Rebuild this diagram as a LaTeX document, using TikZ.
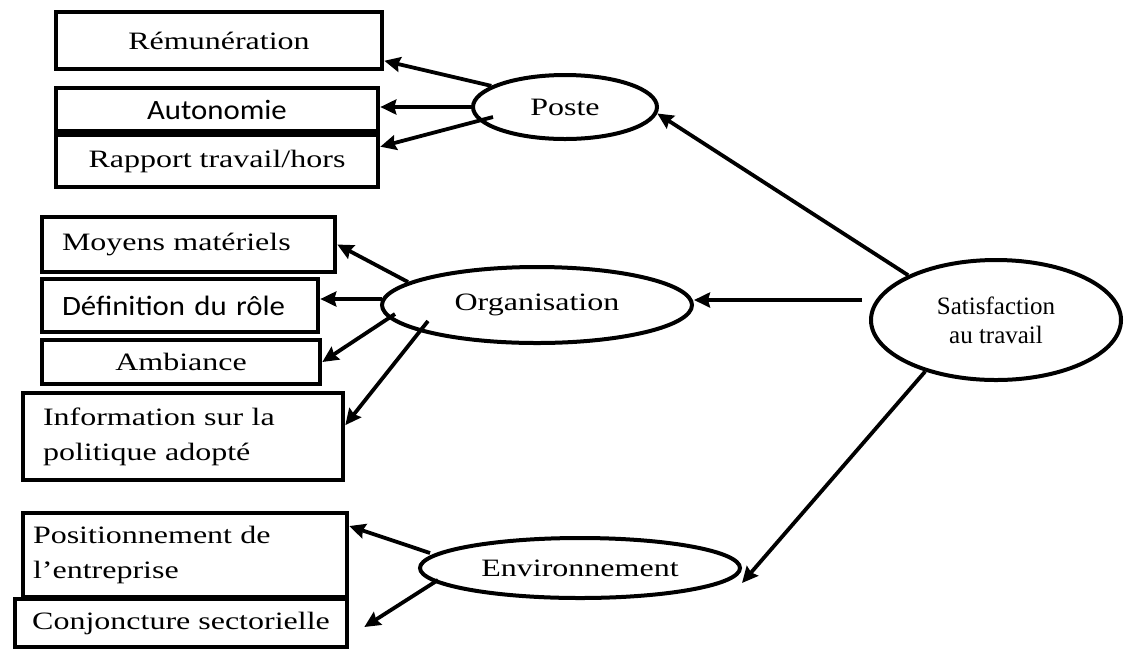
\documentclass[tikz,border=0pt]{standalone}
\usepackage{fontspec}
\setmainfont[FakeStretch=1.28]{Liberation Serif}
\newfontfamily\serifdroit{Liberation Serif}
\newfontfamily\calibri[FakeStretch=1.1]{Carlito}
\usetikzlibrary{shapes.geometric,arrows.meta}

\begin{document}
\begin{tikzpicture}[x=0.5pt,y=-0.5pt,
    boite/.style={draw,line width=2.3pt,inner sep=0pt,font=\fontsize{12.5}{17.5}\selectfont},
    bulle/.style={draw,ellipse,line width=2pt,inner sep=0pt,font=\fontsize{12.5}{15}\selectfont},
    fleche/.style={line width=1.9pt,-{Stealth[length=8pt,width=7.5pt,inset=1pt]}}]
    \useasboundingbox (0,0) rectangle (1125,650);
    \node[boite,minimum width=163pt,minimum height=28.5pt] (rem) at (219,40.5) {Rémunération};
    \node[boite,minimum width=161pt,minimum height=21.5pt,font=\calibri\fontsize{14}{16}\selectfont] (auto) at (217,109.5) {Autonomie};
    \node[boite,minimum width=161pt,minimum height=26pt] (rapp) at (217,161) {Rapport travail/hors};
    \node[boite,text width=126.5pt,inner xsep=10pt,align=left,minimum height=27.5pt] (moy) at (188.5,244.5) {Moyens matériels};
    \node[boite,text width=118pt,inner xsep=10pt,align=left,minimum height=26.5pt,font=\calibri\fontsize{14}{16}\selectfont] (def) at (180,305.5) {Définition du rôle};
    \node[boite,minimum width=139pt,minimum height=22pt] (amb) at (181,362) {Ambiance};
    \node[boite,text width=140pt,inner xsep=10pt,align=left,minimum height=43.5pt] (info) at (183,436.5) {Information sur la\\politique adopté};
    \node[boite,text width=152pt,inner xsep=5pt,align=left,minimum height=42pt] (pos) at (185,555) {Positionnement de\\l’entreprise\\[5pt]};
    \node[boite,minimum width=166pt,minimum height=24pt] (conj) at (181,623) {Conjoncture sectorielle};
    \node[bulle,minimum width=92pt,minimum height=32pt] (poste) at (565,107) {Poste};
    \node[bulle,minimum width=155pt,minimum height=38pt] (org) at (537,305) {Organisation};
    \node[bulle,minimum width=160pt,minimum height=30pt] (env) at (580,568) {Environnement};
    \node[bulle,minimum width=125pt,minimum height=60pt,align=center,font=\serifdroit\fontsize{12.5}{14.5}\selectfont] (sat) at (996,320) {Satisfaction\\au travail};
    \coordinate (p3) at ([shift={(-72,10)}]poste.center);
    \coordinate (s2) at ([shift={(-134,-20)}]sat.center);
    \coordinate (o1) at ([shift={(-129,-23)}]org.center);
    \coordinate (o2) at ([shift={(-155,-6)}]org.center);
    \coordinate (o3) at ([shift={(-142,9)}]org.center);
    \coordinate (o4) at ([shift={(-109,16)}]org.center);
    \coordinate (e1) at ([shift={(-150,-15)}]env.center);
    \coordinate (e2) at ([shift={(-142,12)}]env.center);
    \draw[fleche] (poste.164) -- (rem.-7);
    \draw[fleche] (poste.west) -- (poste.west -| auto.east);
    \draw[fleche] (p3) -- (rapp.5);
    \draw[fleche] (sat.153) -- (poste.-4);
    \draw[fleche] (s2) -- (s2 -| org.east);
    \draw[fleche] (sat.216) -- ([shift={(0,15)}]env.east);
    \draw[fleche] (o1) -- (moy.east);
    \draw[fleche] (o2) -- (o2 -| def.east);
    \draw[fleche] (o3) -- (amb.east);
    \draw[fleche] (o4) -- (info.4);
    \draw[fleche] (e1) -- (pos.10);
    \draw[fleche] (e2) -- ([shift={(15,4)}]conj.east);
\end{tikzpicture}
\end{document}
